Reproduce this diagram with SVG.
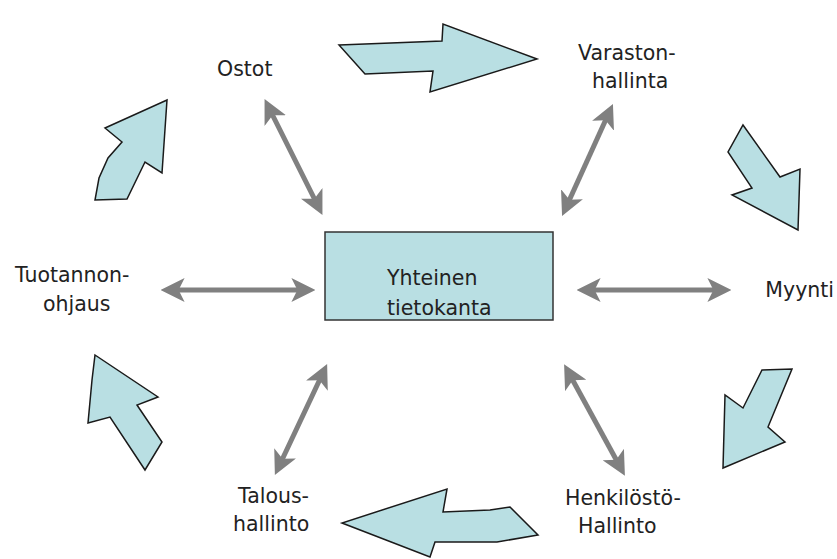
<svg xmlns="http://www.w3.org/2000/svg" width="837" height="559" viewBox="0 0 837 559">
<defs>
<style>
.lbl{font-family:"DejaVu Sans","Liberation Sans",sans-serif;font-size:20.5px;fill:#222;}
.blk{fill:#b9dfe3;stroke:#1a1a1a;stroke-width:1.5;stroke-linejoin:miter;}
.con{stroke:#808080;stroke-width:5;fill:none;marker-start:url(#ah);marker-end:url(#ah);}
</style>
<marker id="ah" viewBox="0 0 10 10" refX="4" refY="5" markerWidth="4.8" markerHeight="4.8" orient="auto-start-reverse" markerUnits="strokeWidth">
<path d="M0,0 L10,5 L0,10 L2.5,5 z" fill="#808080"/>
</marker>
</defs>
<rect width="837" height="559" fill="#ffffff"/>

<g id="flow-arrows">
<polygon class="blk" points="339,45 442,41 443,24 537,59 430,92 433,71 365,74"/>
<polygon class="blk" points="743,125 780,177 800,169 798,230 732,195 752,188 728,152"/>
<polygon class="blk" points="762,370 792,369 768,427 785,442 723,468 725,395 743,408"/>
<polygon class="blk" points="447,489 443,512 490,510 510,507 538,535 497,542 435,542 430,557 342,523"/>
<polygon class="blk" points="95,355 158,397 137,405 162,442 145,470 110,417 88,423 92,380"/>
<polygon class="blk" points="167,100 162,173 145,162 127,199 95,200 99,178 108,158 122,142 105,128"/>
</g>

<g id="connectors">
<line class="con" x1="271" y1="112" x2="316" y2="202"/>
<line class="con" x1="607" y1="117" x2="568" y2="203"/>
<line class="con" x1="175" y1="290" x2="301" y2="290"/>
<line class="con" x1="591" y1="290" x2="717" y2="290"/>
<line class="con" x1="321" y1="377" x2="281" y2="462"/>
<line class="con" x1="571" y1="377" x2="618" y2="463"/>
</g>

<g id="node-center">
<rect x="325" y="232" width="228" height="88" fill="#b9dfe3" stroke="#333" stroke-width="1.5"/>
<text class="lbl" x="387" y="285">Yhteinen</text>
<text class="lbl" x="387" y="315">tietokanta</text>
</g>
<g id="node-ostot"><text class="lbl" x="217" y="76">Ostot</text></g>
<g id="node-varasto">
<text class="lbl" x="578" y="60">Varaston-</text>
<text class="lbl" x="592" y="88">hallinta</text>
</g>
<g id="node-tuotanto">
<text class="lbl" x="15" y="282">Tuotannon-</text>
<text class="lbl" x="43" y="311">ohjaus</text>
</g>
<g id="node-myynti"><text class="lbl" x="834" y="297" text-anchor="end">Myynti</text></g>
<g id="node-talous">
<text class="lbl" x="238" y="503">Talous-</text>
<text class="lbl" x="233" y="531">hallinto</text>
</g>
<g id="node-henkilosto">
<text class="lbl" x="565" y="505">Henkilöstö-</text>
<text class="lbl" x="578" y="533">Hallinto</text>
</g>
</svg>
